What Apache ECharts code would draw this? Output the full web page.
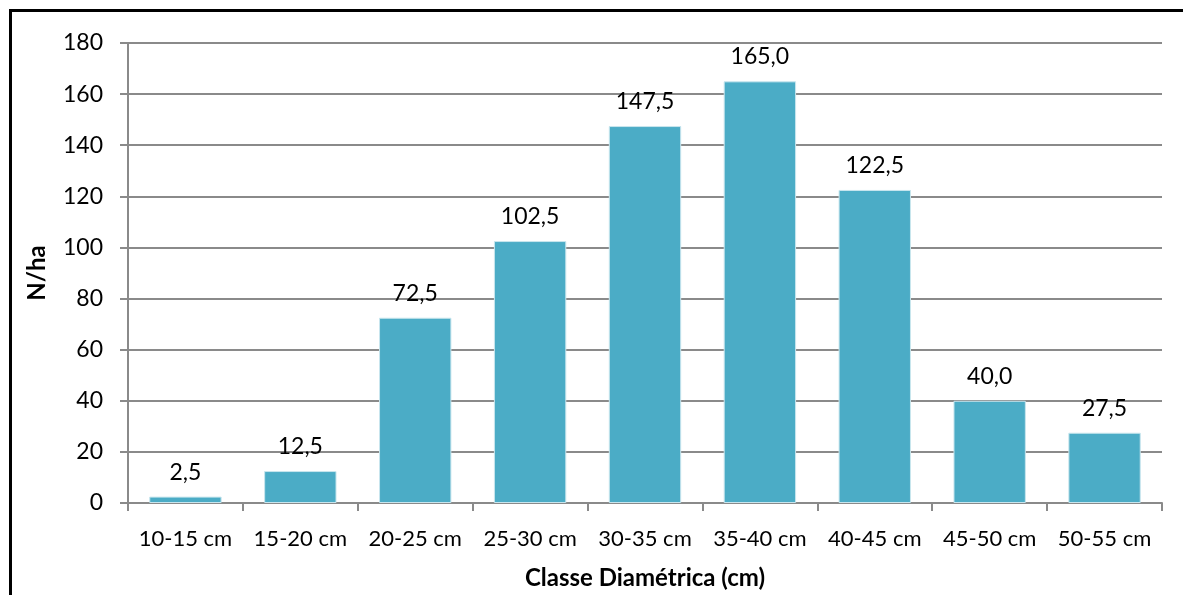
<!DOCTYPE html>
<html>
<head>
<meta charset="utf-8">
<script src="https://cdn.jsdelivr.net/npm/echarts@6/dist/echarts.min.js"></script>
<style>
  html, body { margin: 0; padding: 0; background: #fff; overflow: hidden; }
  #chart { position: absolute; left: 0; top: 0; width: 1183px; height: 595px; }
  #frame { position: absolute; left: 9px; top: 9px; width: 1300px; height: 700px;
           border: 3px solid #000; pointer-events: none; box-sizing: border-box; }
</style>
</head>
<body>
<div id="chart"></div>
<div id="frame"></div>
<script>
// Diameter classes and stem density per hectare
const categories = ['10-15 cm', '15-20 cm', '20-25 cm', '25-30 cm', '30-35 cm',
                    '35-40 cm', '40-45 cm', '45-50 cm', '50-55 cm'];
const densityPerHa = [2.5, 12.5, 72.5, 102.5, 147.5, 165.0, 122.5, 40.0, 27.5];
const yMin = 0, yMax = 180, yStep = 20;

const font = 'Lato, "Noto Sans", sans-serif';
const axisGray = '#8a8a8a';

const chart = echarts.init(document.getElementById('chart'));
chart.setOption({
  backgroundColor: '#fff',
  animation: false,
  grid: { left: 128, right: 21, top: 43, bottom: 91, containLabel: false },
  xAxis: {
    type: 'category',
    data: categories,
    name: 'Classe Diamétrica (cm)',
    nameLocation: 'middle',
    nameGap: 63,
    nameTextStyle: { fontFamily: font, fontSize: 24, fontWeight: 'bold', color: '#000' },
    axisLine: { lineStyle: { color: axisGray, width: 2 } },
    axisTick: { show: true, length: 8, lineStyle: { color: axisGray, width: 2 } },
    axisLabel: { interval: 0, hideOverlap: false, fontFamily: font, fontSize: 22, color: '#000', margin: 25 }
  },
  yAxis: {
    type: 'value',
    min: yMin, max: yMax, interval: yStep,
    name: 'N/ha',
    nameLocation: 'middle',
    nameGap: 79,
    nameTextStyle: { fontFamily: font, fontSize: 24, fontWeight: 'bold', color: '#000' },
    axisLine: { show: true, lineStyle: { color: axisGray, width: 2 } },
    axisTick: { show: true, length: 8, lineStyle: { color: axisGray, width: 2 } },
    splitLine: { lineStyle: { color: axisGray, width: 2 } },
    axisLabel: { fontFamily: font, fontSize: 23, color: '#000', margin: 25 }
  },
  series: [{
    type: 'bar',
    data: densityPerHa,
    barWidth: '63%',
    itemStyle: { color: '#4bacc6', borderColor: '#c9e6ee', borderWidth: 1 },
    label: {
      show: true,
      position: 'top',
      distance: 13,
      fontFamily: font,
      fontSize: 23,
      color: '#000',
      formatter: p => p.value.toFixed(1).replace('.', ',')
    }
  }]
});
</script>
</body>
</html>
